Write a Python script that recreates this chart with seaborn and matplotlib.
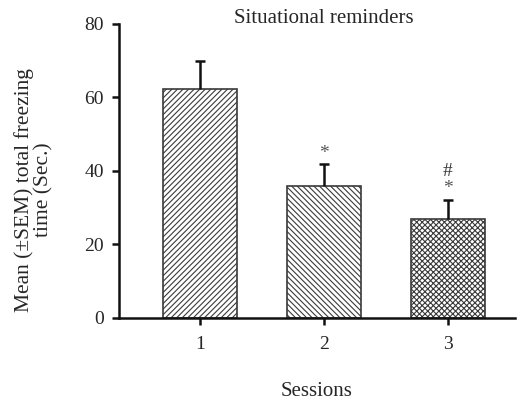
import pandas as pd
import matplotlib
matplotlib.use("Agg")
import matplotlib.pyplot as plt
import seaborn as sns

sns.set_style("ticks")
plt.rcParams['font.family'] = ['Liberation Serif', 'DejaVu Serif']
plt.rcParams['hatch.linewidth'] = 0.8

# data
sessions = ["1", "2", "3"]
means = [62.2, 36.0, 26.9]
sems = [7.8, 5.8, 5.2]
stars = [False, True, True]
hashes = [False, False, True]
hatches = ["//////", "\\\\\\\\\\\\", "xxxxxx"]

df = pd.DataFrame({"session": sessions, "mean": means})

fig = plt.figure(figsize=(5.23, 4.04), dpi=100)
ax = fig.add_axes([0.2275, 0.2129, 0.757, 0.7277])

sns.barplot(data=df, x="session", y="mean", color="white", width=0.6,
            edgecolor="#3a3a3a", linewidth=1.2, errorbar=None, ax=ax)
for bar, h in zip(ax.patches, hatches):
    bar.set_hatch(h)

# upper-only error bars, cap on top only
xs = list(range(len(sessions)))
tops = [m + s for m, s in zip(means, sems)]
ax.vlines(xs, means, tops, color="#111111", linewidth=1.8, zorder=3)
ax.plot(xs, tops, linestyle="none", marker="_", markersize=7,
        markeredgewidth=1.8, color="#111111", zorder=3)

for i, t in enumerate(tops):
    if stars[i]:
        ax.text(i, t + 3.0, "*", ha="center", va="center", fontsize=14, color="#555555")
    if hashes[i]:
        ax.text(i, t + 7.8, "#", ha="center", va="center", fontsize=14, color="#333333")

ax.set_xlim(-0.653, 2.54)
ax.set_ylim(0, 80)
ax.set_yticks([0, 20, 40, 60, 80])
ax.tick_params(axis="both", labelsize=14, width=1.8, length=5, color="#111111")
ax.tick_params(axis="x", pad=8)
ax.tick_params(axis="y", pad=6)
for sp in ["left", "bottom"]:
    ax.spines[sp].set_linewidth(1.8)
    ax.spines[sp].set_color("#111111")
sns.despine(ax=ax)

ax.set_title("Situational reminders", fontsize=15, pad=1, x=0.518, y=1.0)
ax.set_xlabel("Sessions", fontsize=15, labelpad=21)
ax.set_ylabel("Mean (\u00b1SEM) total freezing\ntime (Sec.)", fontsize=15.5, linespacing=1.0)
ax.yaxis.set_label_coords(-0.165, 0.435)

fig.savefig("out.png", dpi=100)
